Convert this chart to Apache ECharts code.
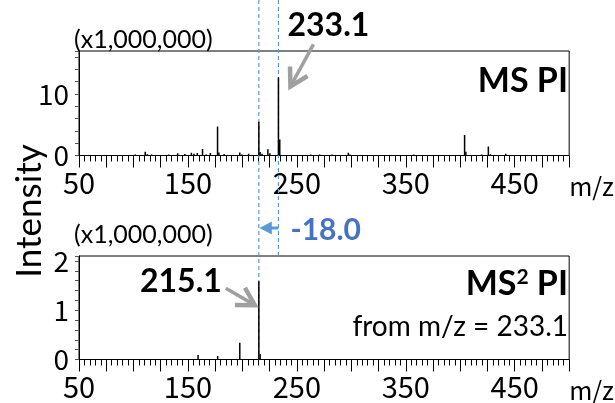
<!DOCTYPE html>
<html>
<head>
<meta charset="utf-8">
<script src="https://cdn.jsdelivr.net/npm/echarts@6/dist/echarts.min.js"></script>
<style>
html,body{margin:0;padding:0;background:#fff;}
#main{width:615px;height:403px;}
</style>
</head>
<body>
<div id="main"></div>
<script>
// MS PI (precursor ion scan) peaks: m/z and intensity (x1,000,000)
const ms1Mz  = [101.6, 103.0, 110.8, 112.7, 116.6, 132.2, 140.6, 147.2, 153.2, 155.6, 158.6, 163.4, 166.7, 170.6, 177.2, 178.4, 183.2, 197.6, 199.4, 205.7, 215.1, 216.3, 218.0, 223.4, 225.2, 233.1, 234.3, 249.2, 262.7, 271.0, 282.2, 297.2, 298.7, 329.3, 342.8, 357.2, 370.0, 391.7, 404.0, 405.2, 419.6, 425.8, 427.7, 441.8];
const ms1Int = [0.15, 0.10, 0.60, 0.20, 0.15, 0.15, 0.35, 0.25, 0.45, 0.30, 0.40, 1.05, 0.15, 0.40, 4.70, 0.50, 0.25, 0.50, 0.15, 0.30, 5.50, 0.55, 0.30, 1.00, 0.35, 12.70, 2.60, 0.10, 0.15, 0.15, 0.15, 0.45, 0.15, 0.10, 0.10, 0.15, 0.05, 0.10, 3.35, 0.60, 0.15, 1.45, 0.20, 0.30];
// MS2 PI from m/z 233.1
const ms2Mz  = [159.3, 177.3, 197.6, 215.1, 216.3];
const ms2Int = [0.09, 0.07, 0.34, 1.59, 0.11];
// axis settings
const xMin = 50, xMax = 500, xStep = 25;
const xLabels = [50, 150, 250, 350, 450];
const y1Max = 17, y1Step = 2, y1Labels = [0, 10];
const y2Max = 2.1, y2Step = 0.2, y2Labels = [0, 1, 2];
// annotation values
const precursorMz = 233.1, productMz = 215.1, lossText = '-18.0';

const NARROW = '"Noto Sans CJK JP","DejaVu Sans Condensed",sans-serif';
const CAL = 'Lato, "Open Sans", sans-serif';

function peakSeries(mz, inten, idx) {
  return {
    type: 'custom',
    xAxisIndex: idx, yAxisIndex: idx,
    data: mz.map((m, i) => [m, inten[i]]),
    clip: true,
    z: 3,
    renderItem: (params, api) => {
      const a = api.coord([api.value(0), 0]);
      const b = api.coord([api.value(0), api.value(1)]);
      return {type: 'line', shape: {x1: a[0], y1: a[1], x2: b[0], y2: b[1]},
              style: {stroke: '#000', lineWidth: 1.5}};
    }
  };
}

function xAxisDef(idx) {
  return {
    type: 'value', gridIndex: idx, min: xMin, max: xMax, interval: xStep,
    axisLine: {show: true, lineStyle: {color: '#000', width: 1}},
    axisTick: {show: true, length: 12, lineStyle: {color: '#000', width: 1}},
    minorTick: {show: true, splitNumber: 5, length: 6, lineStyle: {color: '#000', width: 1}},
    splitLine: {show: false},
    axisLabel: {
      margin: 13, fontFamily: NARROW, fontSize: 29, color: '#000',
      formatter: v => xLabels.some(l => Math.abs(l - v) < 1e-6) ? String(v) : ''
    },
    name: 'm/z', nameLocation: 'end', nameGap: 0,
    nameTextStyle: {fontFamily: NARROW, fontSize: 25, color: '#000', align: 'left', verticalAlign: 'top', padding: [18, 0, 0, 0]}
  };
}

function yAxisDef(idx, max, step, labels) {
  return {
    type: 'value', gridIndex: idx, min: 0, max: max, interval: step,
    axisLine: {show: true, lineStyle: {color: '#000', width: 1}},
    axisTick: {show: true, length: 4, lineStyle: {color: '#555', width: 1}},
    splitLine: {show: false},
    axisLabel: {
      margin: 10, fontFamily: NARROW, fontSize: 28, color: '#000',
      formatter: v => labels.some(l => Math.abs(l - v) < 1e-6) ? String(Math.round(v)) : ''
    },
    name: '(x1,000,000)', nameLocation: 'end', nameGap: 11,
    nameTextStyle: {fontFamily: CAL, fontSize: 25, color: '#000', align: 'left', verticalAlign: 'middle', padding: [0, 0, 0, -5]}
  };
}

const option = {
  animation: false,
  backgroundColor: '#fff',
  grid: [
    {left: 79, right: 36, top: 51, height: 104.5, show: true, borderColor: '#000', borderWidth: 1, containLabel: false},
    {left: 79, right: 36, top: 256, height: 103.5, show: true, borderColor: '#000', borderWidth: 1, containLabel: false}
  ],
  xAxis: [xAxisDef(0), xAxisDef(1)],
  yAxis: [yAxisDef(0, y1Max, y1Step, y1Labels), yAxisDef(1, y2Max, y2Step, y2Labels)],
  series: [peakSeries(ms1Mz, ms1Int, 0), peakSeries(ms2Mz, ms2Int, 1)]
};

const chart = echarts.init(document.getElementById('main'), null, {renderer: 'canvas'});
chart.setOption(option);

const px = (g, x, y) => chart.convertToPixel({gridIndex: g}, [x, y]);
const xPre = px(0, precursorMz, 0)[0];
const xPro = px(0, productMz, 0)[0];
const grid1Top = px(1, precursorMz, y2Max)[1];
const grid1Base = px(1, productMz, 0)[1];
const preTop = px(0, precursorMz, ms1Int[ms1Mz.indexOf(precursorMz)])[1];
const proTop = px(1, productMz, ms2Int[ms2Mz.indexOf(productMz)])[1];

const BLUE = '#5B9BD5', GRAY = '#A0A0A0';

function grayArrow(x1, y1, x2, y2) {
  const dx = x2 - x1, dy = y2 - y1, L = Math.hypot(dx, dy);
  const ux = dx / L, uy = dy / L;
  const ang = 30 * Math.PI / 180, hl = 20;
  const bx = -ux, by = -uy;
  const r = (c, s) => [x2 + hl * (bx * c - by * s), y2 + hl * (bx * s + by * c)];
  const a1 = r(Math.cos(ang), Math.sin(ang));
  const a2 = r(Math.cos(-ang), Math.sin(-ang));
  return [
    {type: 'line', z: 10, shape: {x1: x1, y1: y1, x2: x2 - ux * 3, y2: y2 - uy * 3}, style: {stroke: GRAY, lineWidth: 3.5}},
    {type: 'polyline', z: 10, shape: {points: [a1, [x2, y2], a2]}, style: {stroke: GRAY, lineWidth: 4.5, fill: null, lineJoin: 'miter'}}
  ];
}

const yArrow = 228;
const elements = [
  // dashed guide lines
  {type: 'line', z: 1, shape: {x1: xPro, y1: 0, x2: xPro, y2: grid1Base}, style: {stroke: BLUE, lineWidth: 1.2, lineDash: [4, 3]}},
  {type: 'line', z: 1, shape: {x1: xPre, y1: 0, x2: xPre, y2: grid1Top}, style: {stroke: BLUE, lineWidth: 1.2, lineDash: [4, 3]}},
  // blue shift arrow
  {type: 'line', z: 10, shape: {x1: xPre, y1: yArrow, x2: xPro + 11, y2: yArrow}, style: {stroke: BLUE, lineWidth: 3}},
  {type: 'polygon', z: 10, shape: {points: [[xPro + 0.5, yArrow], [xPro + 13, yArrow - 6.5], [xPro + 13, yArrow + 6.5]]}, style: {fill: BLUE}},
  {type: 'text', z: 10, x: xPre + 12, y: yArrow + 2, style: {text: lossText, font: 'bold 30px ' + CAL, fill: '#4472C4', textAlign: 'left', textVerticalAlign: 'middle'}},
  // peak labels
  {type: 'text', z: 10, x: xPre + 9, y: 26, style: {text: precursorMz.toFixed(1), font: 'bold 32px ' + CAL, fill: '#000', textAlign: 'left', textVerticalAlign: 'middle'}},
  {type: 'text', z: 10, x: xPro - 37, y: proTop + 1, style: {text: productMz.toFixed(1), font: 'bold 32px ' + CAL, fill: '#000', textAlign: 'right', textVerticalAlign: 'middle'}},
  // panel titles
  {type: 'text', z: 10, x: 568, y: 81, style: {text: 'MS PI', font: 'bold 34px ' + CAL, fill: '#000', textAlign: 'right', textVerticalAlign: 'middle'}},
  {type: 'text', z: 10, x: 568, y: 284, style: {
    text: '{a|MS}{s|2}{a| PI}', textAlign: 'right', textVerticalAlign: 'middle',
    rich: {a: {font: 'bold 34px ' + CAL, fill: '#000', verticalAlign: 'bottom'},
           s: {font: 'bold 21px ' + CAL, fill: '#000', verticalAlign: 'top'}}}},
  {type: 'text', z: 10, x: 568, y: 327, style: {text: 'from m/z = ' + precursorMz.toFixed(1), font: '28px ' + CAL, fill: '#000', textAlign: 'right', textVerticalAlign: 'middle'}},
  // y axis title
  {type: 'text', z: 10, x: 30, y: 211, rotation: Math.PI / 2, style: {text: 'Intensity', font: '35px ' + CAL, fill: '#000', textAlign: 'center', textVerticalAlign: 'middle'}}
]
  .concat(grayArrow(xPre + 35, preTop - 33, xPre + 12, preTop + 9))
  .concat(grayArrow(xPro - 33, proTop + 7, xPro - 4, proTop + 24));

chart.setOption({graphic: {elements: elements}});
</script>
</body>
</html>
